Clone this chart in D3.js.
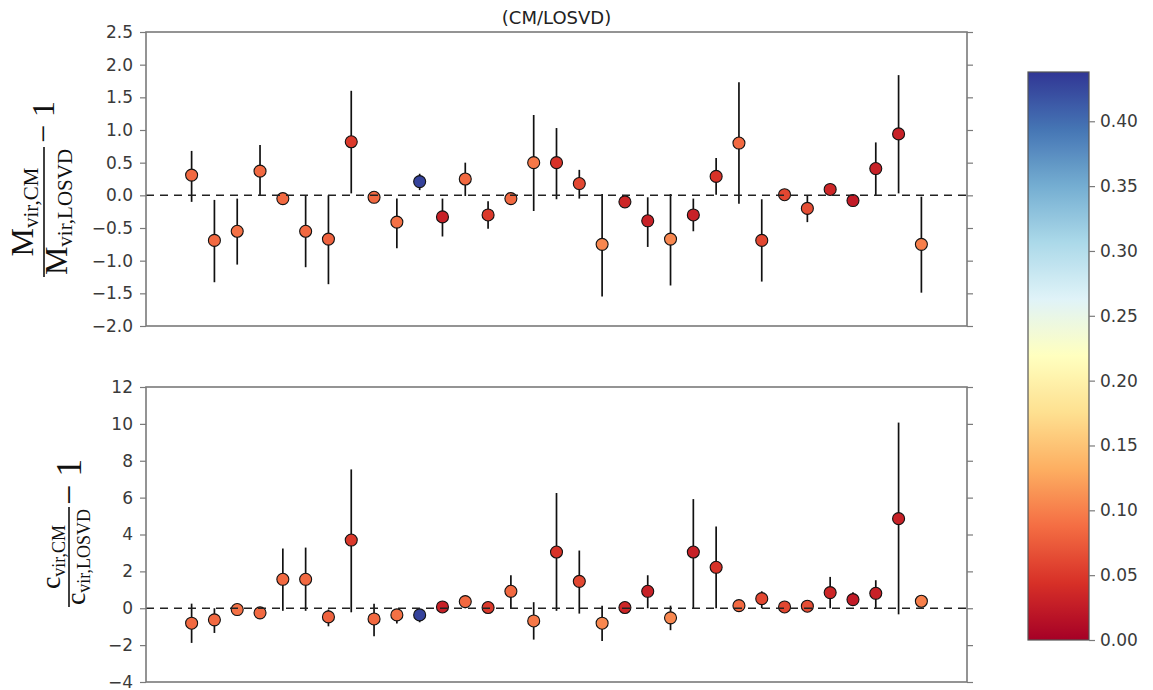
<!DOCTYPE html>
<html>
<head>
<meta charset="utf-8">
<script src="https://cdn.jsdelivr.net/npm/d3@7"></script>
<style>
  html, body { margin: 0; padding: 0; background: #fff; }
  svg { display: block; }
</style>
</head>
<body>
<svg id="chart" width="1153" height="690"></svg>
<script>
// ---------------- data ----------------
const haloIndex = d3.range(1, 34);

const massRatio = [0.31, -0.69, -0.55, 0.37, -0.05, -0.55, -0.67, 0.82, -0.03, -0.41, 0.21,
  -0.33, 0.25, -0.30, -0.05, 0.50, 0.50, 0.18, -0.75, -0.10, -0.39, -0.67, -0.30, 0.29,
  0.80, -0.69, 0.01, -0.20, 0.09, -0.08, 0.41, 0.94, -0.75];
const massLow = [-0.10, -1.33, -1.06, -0.01, -0.10, -1.10, -1.36, 0.03, -0.07, -0.81, 0.08,
  -0.63, -0.01, -0.51, -0.09, -0.24, -0.06, -0.05, -1.55, -0.14, -0.79, -1.38, -0.55, 0.01,
  -0.13, -1.32, -0.02, -0.41, 0.02, -0.11, -0.01, 0.03, -1.49];
const massHigh = [0.68, -0.07, -0.05, 0.77, 0.00, -0.01, 0.00, 1.60, 0.01, -0.05, 0.33,
  -0.05, 0.50, -0.09, -0.01, 1.23, 1.03, 0.39, 0.02, -0.02, -0.03, 0.02, -0.05, 0.57,
  1.73, -0.06, 0.04, 0.00, 0.13, -0.04, 0.81, 1.84, -0.02];

const concRatio = [-0.81, -0.63, -0.07, -0.25, 1.57, 1.57, -0.47, 3.70, -0.58, -0.36, -0.36,
  0.07, 0.36, 0.04, 0.92, -0.69, 3.05, 1.46, -0.81, 0.04, 0.92, -0.52, 3.05, 2.22,
  0.14, 0.52, 0.07, 0.11, 0.85, 0.47, 0.81, 4.86, 0.38];
const concLow = [-1.88, -1.34, -0.20, -0.56, -0.14, -0.14, -0.98, -0.22, -1.52, -0.83, -0.76,
  -0.05, 0.00, -0.05, 0.00, -1.70, -0.14, -0.29, -1.77, -0.05, 0.00, -1.19, 0.00, 0.00,
  0.00, 0.00, -0.03, -0.02, 0.00, 0.14, 0.00, -0.33, 0.04];
const concHigh = [0.25, 0.00, 0.05, 0.00, 3.24, 3.29, -0.07, 7.53, 0.25, -0.07, -0.07,
  0.20, 0.63, 0.12, 1.79, 0.33, 6.25, 3.13, 0.14, 0.12, 1.79, 0.14, 5.92, 4.44,
  0.25, 0.92, 0.15, 0.20, 1.70, 0.87, 1.52, 10.07, 0.69];

const colorValue = [0.085, 0.085, 0.09, 0.085, 0.085, 0.085, 0.08, 0.05, 0.085, 0.09, 0.43,
  0.03, 0.085, 0.05, 0.085, 0.095, 0.045, 0.06, 0.105, 0.035, 0.03, 0.105, 0.03, 0.045,
  0.085, 0.06, 0.06, 0.065, 0.035, 0.025, 0.03, 0.03, 0.10];

const massTicks = [-2.0, -1.5, -1.0, -0.5, 0.0, 0.5, 1.0, 1.5, 2.0, 2.5];
const concTicks = [-4, -2, 0, 2, 4, 6, 8, 10, 12];
const cbarTicks = [0.00, 0.05, 0.10, 0.15, 0.20, 0.25, 0.30, 0.35, 0.40];
const cbarMax = 0.438;
const titleText = "(CM/LOSVD)";

// RdYlBu palette (matplotlib style linear segments)
const rdylbu = ["#a50026", "#d73027", "#f46d43", "#fdae61", "#fee090", "#ffffbf",
  "#e0f3f8", "#abd9e9", "#74add1", "#4575b4", "#313695"];

// ---------------- drawing ----------------
const svg = d3.select("#chart");
const left = 146, right = 967;
const topPanel = { top: 32, bottom: 326 };
const botPanel = { top: 387, bottom: 682 };
const axisColor = "#7a7a7a";
const textColor = "#3a3a3a";
const sansFont = "DejaVu Sans, sans-serif";
const serifFont = "Liberation Serif, DejaVu Serif, serif";

const color = d3.scaleLinear()
  .domain(rdylbu.map((_, i) => i / (rdylbu.length - 1) * cbarMax))
  .range(rdylbu)
  .interpolate(d3.interpolateRgb)
  .clamp(true);

const x = d3.scaleLinear().domain([-1, 35]).range([left, right]);

function panel(p, domain, ticks, fmt, vals, lows, highs) {
  const y = d3.scaleLinear().domain(domain).range([p.bottom, p.top]);
  const g = svg.append("g");

  // error bars
  g.append("g").selectAll("line").data(haloIndex).join("line")
    .attr("x1", (d) => x(d)).attr("x2", (d) => x(d))
    .attr("y1", (d, i) => y(lows[i])).attr("y2", (d, i) => y(highs[i]))
    .attr("stroke", "#111").attr("stroke-width", 1.7);

  // markers
  g.append("g").selectAll("circle").data(haloIndex).join("circle")
    .attr("cx", (d) => x(d)).attr("cy", (d, i) => y(vals[i]))
    .attr("r", 6)
    .attr("fill", (d, i) => color(colorValue[i]))
    .attr("stroke", "#111").attr("stroke-width", 1.1);

  // zero line (drawn above markers)
  g.append("line")
    .attr("x1", left).attr("x2", right)
    .attr("y1", y(0)).attr("y2", y(0))
    .attr("stroke", "#222").attr("stroke-width", 1.5)
    .attr("stroke-dasharray", "8,6");

  // left axis
  const la = g.append("g").attr("transform", `translate(${left},0)`)
    .call(d3.axisLeft(y).tickValues(ticks).tickFormat(fmt).tickSize(6).tickPadding(7));
  la.select(".domain").remove();
  la.selectAll(".tick line").attr("stroke", axisColor).attr("stroke-width", 1.2);
  la.selectAll(".tick text").attr("fill", textColor)
    .style("font-family", sansFont).style("font-size", "17px");

  // right axis (ticks only)
  const ra = g.append("g").attr("transform", `translate(${right},0)`)
    .call(d3.axisRight(y).tickValues(ticks).tickFormat("").tickSize(6));
  ra.select(".domain").remove();
  ra.selectAll(".tick line").attr("stroke", axisColor).attr("stroke-width", 1.2);

  // frame
  g.append("rect")
    .attr("x", left).attr("y", p.top)
    .attr("width", right - left).attr("height", p.bottom - p.top)
    .attr("fill", "none").attr("stroke", axisColor).attr("stroke-width", 1.6);
  return y;
}

const minusFmt = (f) => (d) => f(d).replace("-", "\u2212");
panel(topPanel, [-2.0, 2.5], massTicks, minusFmt(d3.format(".1f")), massRatio, massLow, massHigh);
panel(botPanel, [-4, 12], concTicks, minusFmt(d3.format("d")), concRatio, concLow, concHigh);

// title
svg.append("text")
  .attr("x", (left + right) / 2).attr("y", 24)
  .attr("text-anchor", "middle")
  .attr("fill", "#222")
  .style("font-family", sansFont).style("font-size", "18px")
  .text(titleText);

// y labels (fractions)
function fracLabel(cx, cy, sym, symSize, subSize, numBase, denBase, barHalf, oneSize, minusStart, oneBase) {
  const g = svg.append("g")
    .attr("transform", `translate(${cx},${cy}) rotate(-90)`)
    .style("font-family", serifFont)
    .attr("fill", "#111");
  const num = g.append("text").attr("x", 0).attr("y", numBase).attr("text-anchor", "middle");
  num.append("tspan").style("font-size", symSize + "px").text(sym);
  num.append("tspan").style("font-size", subSize + "px").attr("dy", 5).text("vir,CM");
  const den = g.append("text").attr("x", 0).attr("y", denBase).attr("text-anchor", "middle");
  den.append("tspan").style("font-size", symSize + "px").text(sym);
  den.append("tspan").style("font-size", subSize + "px").attr("dy", 5).text("vir,LOSVD");
  g.append("line")
    .attr("x1", -barHalf).attr("x2", barHalf).attr("y1", 0).attr("y2", 0)
    .attr("stroke", "#111").attr("stroke-width", 1.6);
  const one = g.append("text").attr("x", minusStart).attr("y", oneBase)
    .style("font-size", oneSize + "px");
  one.append("tspan").text("\u2212");
  one.append("tspan").attr("dx", 8).text("1");
}
fracLabel(44, 212, "M", 32, 21, -11, 23, 65, 32, 69, 10);
fracLabel(69, 557, "c", 28, 18, -9, 16, 50, 36, 52, 12);

// colorbar
const cb = { x0: 1028, x1: 1089, top: 72, bottom: 640 };
const cy = d3.scaleLinear().domain([0, cbarMax]).range([cb.bottom, cb.top]);
const defs = svg.append("defs");
const grad = defs.append("linearGradient").attr("id", "cbgrad")
  .attr("x1", 0).attr("y1", 1).attr("x2", 0).attr("y2", 0);
grad.selectAll("stop").data(d3.range(0, 1.0001, 0.02)).join("stop")
  .attr("offset", (d) => d)
  .attr("stop-color", (d) => color(d * cbarMax));
svg.append("rect")
  .attr("x", cb.x0).attr("y", cb.top)
  .attr("width", cb.x1 - cb.x0).attr("height", cb.bottom - cb.top)
  .attr("fill", "url(#cbgrad)")
  .attr("stroke", "#555").attr("stroke-width", 1.2);
const ca = svg.append("g").attr("transform", `translate(${cb.x1},0)`)
  .call(d3.axisRight(cy).tickValues(cbarTicks).tickFormat(d3.format(".2f")).tickSize(6).tickPadding(5));
ca.select(".domain").remove();
ca.selectAll(".tick line").attr("stroke", axisColor).attr("stroke-width", 1.2);
ca.selectAll(".tick text").attr("fill", textColor)
  .style("font-family", sansFont).style("font-size", "17px");
</script>
</body>
</html>
